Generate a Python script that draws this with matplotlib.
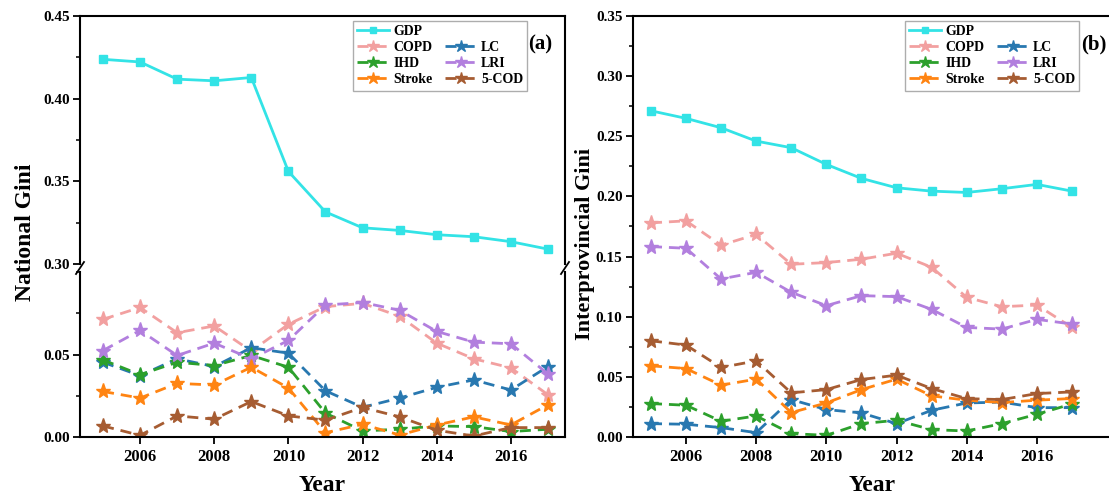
import matplotlib
matplotlib.use('Agg')
from matplotlib import pyplot as plt
from matplotlib.lines import Line2D
from matplotlib.ticker import MultipleLocator, FormatStrFormatter

plt.rcParams['font.family'] = 'Liberation Serif'
plt.rcParams['font.weight'] = 'bold'

years = list(range(2005, 2018))

# (a) national Gini
nat_gdp = [0.4238, 0.4222, 0.4118, 0.4108, 0.4128, 0.3560, 0.3315, 0.3219, 0.3203, 0.3177, 0.3165, 0.3135, 0.3090]
nat_copd = [0.0713, 0.0785, 0.0632, 0.0673, 0.0520, 0.0683, 0.0790, 0.0810, 0.0732, 0.0569, 0.0474, 0.0419, 0.0256]
nat_lc = [0.0453, 0.0372, 0.0474, 0.0427, 0.0541, 0.0508, 0.0280, 0.0180, 0.0236, 0.0301, 0.0346, 0.0285, 0.0427]
nat_ihd = [0.0467, 0.0378, 0.0453, 0.0433, 0.0494, 0.0423, 0.0145, 0.0037, 0.0047, 0.0067, 0.0063, 0.0033, 0.0047]
nat_lri = [0.0524, 0.0646, 0.0494, 0.0569, 0.0474, 0.0585, 0.0800, 0.0815, 0.0768, 0.0640, 0.0575, 0.0565, 0.0382]
nat_stroke = [0.0276, 0.0236, 0.0325, 0.0315, 0.0423, 0.0297, 0.0026, 0.0077, 0.0012, 0.0073, 0.0122, 0.0073, 0.0195]
nat_5cod = [0.0067, 0.0010, 0.0128, 0.0108, 0.0215, 0.0128, 0.0102, 0.0179, 0.0122, 0.0041, 0.0006, 0.0057, 0.0057]

# (b) interprovincial Gini
pro_gdp = [0.2712, 0.2649, 0.2571, 0.2460, 0.2405, 0.2266, 0.2150, 0.2072, 0.2044, 0.2033, 0.2064, 0.2100, 0.2044]
pro_copd = [0.1780, 0.1797, 0.1595, 0.1684, 0.1436, 0.1450, 0.1478, 0.1528, 0.1411, 0.1161, 0.1083, 0.1097, 0.0911]
pro_lc = [0.0111, 0.0106, 0.0078, 0.0036, 0.0311, 0.0228, 0.0200, 0.0111, 0.0222, 0.0283, 0.0290, 0.0244, 0.0244]
pro_ihd = [0.0278, 0.0264, 0.0131, 0.0175, 0.0028, 0.0014, 0.0111, 0.0139, 0.0061, 0.0050, 0.0111, 0.0189, 0.0275]
pro_lri = [0.1583, 0.1569, 0.1314, 0.1369, 0.1203, 0.1092, 0.1175, 0.1167, 0.1061, 0.0911, 0.0897, 0.0978, 0.0939]
pro_stroke = [0.0592, 0.0569, 0.0431, 0.0481, 0.0203, 0.0283, 0.0394, 0.0481, 0.0342, 0.0306, 0.0286, 0.0306, 0.0320]
pro_5cod = [0.0800, 0.0764, 0.0578, 0.0633, 0.0367, 0.0394, 0.0478, 0.0514, 0.0403, 0.0319, 0.0311, 0.0361, 0.0375]

disease_names = ['COPD', 'LC', 'IHD', 'LRI', 'Stroke', '5-COD']
colors = {'GDP': '#33e3e6', 'COPD': '#f2a0a0', 'LC': '#2878b0', 'IHD': '#2ca02c',
          'LRI': '#b27fde', 'Stroke': '#ff8412', '5-COD': '#a65c32'}

W, H = 1109, 497
fig = plt.figure(figsize=(W / 100, H / 100), dpi=100)

def box(l, r, top, bot):
    # pixel box -> figure fraction
    return [l / W, 1 - bot / H, (r - l) / W, (bot - top) / H]

dash = (0, (4, 2.5))

def style(ax):
    ax.tick_params(which='major', direction='out', length=5, width=1.3)
    ax.tick_params(axis='x', labelsize=12)
    ax.tick_params(axis='y', labelsize=11, pad=2.5)
    ax.tick_params(which='minor', direction='out', length=3, width=1.1)
    for s in ax.spines.values():
        s.set_linewidth(1.5)

def draw_lines(ax, gdp, series):
    ax.plot(years, gdp, color=colors['GDP'], lw=2, marker='s', ms=6, label='GDP', zorder=3)
    for name, vals in zip(disease_names, series):
        ax.plot(years, vals, color=colors[name], lw=2, ls=dash, marker='*', ms=11, label=name)

def add_legend(ax, x, y):
    h, l = ax.get_legend_handles_labels()
    d = dict(zip(l, h))
    blank = Line2D([], [], color='none')
    order = [d['GDP'], d['COPD'], d['IHD'], d['Stroke'], blank, d['LC'], d['LRI'], d['5-COD']]
    labels = ['GDP', 'COPD', 'IHD', 'Stroke', '', 'LC', 'LRI', '5-COD']
    leg = ax.legend(order, labels, ncol=2, loc='upper left', bbox_to_anchor=(x / W, 1 - y / H),
                    bbox_transform=fig.transFigure, borderaxespad=0, frameon=True, fancybox=False,
                    prop={'family': 'Liberation Serif', 'weight': 'bold', 'size': 10},
                    handlelength=2.3, handletextpad=0.3, columnspacing=0.9, labelspacing=0.22,
                    borderpad=0.3, markerscale=0.8)
    leg.get_frame().set_edgecolor('#999999')
    leg.get_frame().set_linewidth(1.0)

# ---- panel (a): broken y axis
ax_top = fig.add_axes(box(80, 565, 16, 264))
ax_bot = fig.add_axes(box(80, 565, 272, 437))
for ax in (ax_top, ax_bot):
    draw_lines(ax, nat_gdp, [nat_copd, nat_lc, nat_ihd, nat_lri, nat_stroke, nat_5cod])
    ax.set_xlim(2004.38, 2017.46)
    ax.xaxis.set_major_locator(MultipleLocator(2))
ax_top.set_ylim(0.30, 0.45)
ax_top.yaxis.set_major_locator(MultipleLocator(0.05))
ax_top.yaxis.set_minor_locator(MultipleLocator(0.025))
ax_top.spines['bottom'].set_visible(False)
ax_top.tick_params(axis='x', which='both', bottom=False, labelbottom=False)
ax_bot.set_ylim(0.0, 0.10)
ax_bot.set_yticks([0.0, 0.05])
ax_bot.yaxis.set_minor_locator(MultipleLocator(0.025))
ax_bot.spines['top'].set_visible(False)
for ax in (ax_top, ax_bot):
    ax.yaxis.set_major_formatter(FormatStrFormatter('%.2f'))
    style(ax)
ax_bot.set_xlabel('Year', fontsize=17, fontweight='bold', labelpad=7)
fig.text(26 / W, 1 - 232 / H, 'National Gini', rotation=90, ha='center', va='center',
         fontsize=17, fontweight='bold')

# break marks on both spines of panel (a)
for xp in (80, 565):
    fig.add_artist(Line2D([(xp - 4) / W, (xp + 4) / W], [1 - 274 / H, 1 - 262 / H],
                          color='black', lw=1.3))

add_legend(ax_top, 353, 21)
fig.text(540 / W, 1 - 44 / H, '(a)', ha='center', va='center', fontsize=15, fontweight='bold')

# ---- panel (b)
ax_b = fig.add_axes(box(633, 1112, 16, 437))
draw_lines(ax_b, pro_gdp, [pro_copd, pro_lc, pro_ihd, pro_lri, pro_stroke, pro_5cod])
ax_b.set_xlim(2004.49, 2018.14)
ax_b.set_xticks([2006, 2008, 2010, 2012, 2014, 2016])
ax_b.set_ylim(0.0, 0.35)
ax_b.yaxis.set_major_locator(MultipleLocator(0.05))
ax_b.yaxis.set_minor_locator(MultipleLocator(0.025))
ax_b.yaxis.set_major_formatter(FormatStrFormatter('%.2f'))
style(ax_b)
ax_b.set_xlabel('Year', fontsize=17, fontweight='bold', labelpad=7)
fig.text(585 / W, 1 - 244 / H, 'Interprovincial Gini', rotation=90, ha='center', va='center',
         fontsize=16, fontweight='bold')
add_legend(ax_b, 905, 21)
fig.text(1094 / W, 1 - 44 / H, '(b)', ha='center', va='center', fontsize=15, fontweight='bold')

fig.savefig('out.png', dpi=100)
